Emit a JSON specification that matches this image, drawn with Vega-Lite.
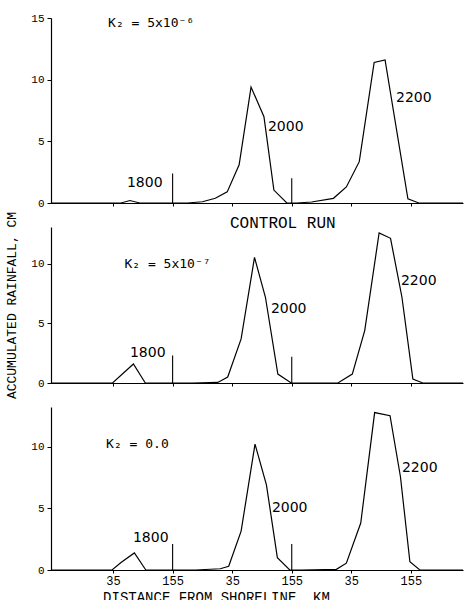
{
  "$schema": "https://vega.github.io/schema/vega-lite/v6.json",
  "padding": {"left": 5, "top": 12, "right": 0, "bottom": 0},
  "bounds": "flush",
  "spacing": 24,
  "background": "white",
  "config": {
    "view": {"stroke": null},
    "font": "Liberation Mono",
    "axis": {
      "grid": false, "domainColor": "black", "tickColor": "black", "labelColor": "black",
      "titleColor": "black", "labelFont": "Liberation Mono", "titleFont": "Liberation Mono",
      "labelFontSize": 11, "titleFontWeight": "normal", "tickSize": 4, "domainWidth": 1.2, "tickWidth": 1
    }
  },
  "datasets": {
    "curves": [
      {"panel": "top", "pos": -90, "value": 0}, {"panel": "top", "pos": 51, "value": 0}, {"panel": "top", "pos": 69, "value": 0.2}, {"panel": "top", "pos": 89, "value": 0},
      {"panel": "top", "pos": 185, "value": 0}, {"panel": "top", "pos": 215, "value": 0.1}, {"panel": "top", "pos": 241, "value": 0.38}, {"panel": "top", "pos": 265, "value": 0.9},
      {"panel": "top", "pos": 289, "value": 3.1}, {"panel": "top", "pos": 313, "value": 9.4}, {"panel": "top", "pos": 339, "value": 7.0}, {"panel": "top", "pos": 359, "value": 1.05},
      {"panel": "top", "pos": 385, "value": 0}, {"panel": "top", "pos": 405, "value": 0}, {"panel": "top", "pos": 435, "value": 0.08}, {"panel": "top", "pos": 479, "value": 0.38},
      {"panel": "top", "pos": 505, "value": 1.3}, {"panel": "top", "pos": 531, "value": 3.35}, {"panel": "top", "pos": 561, "value": 11.4}, {"panel": "top", "pos": 583, "value": 11.6},
      {"panel": "top", "pos": 629, "value": 0.33}, {"panel": "top", "pos": 651, "value": 0}, {"panel": "top", "pos": 740, "value": 0},

      {"panel": "mid", "pos": -90, "value": 0}, {"panel": "mid", "pos": 34, "value": 0}, {"panel": "mid", "pos": 76, "value": 1.6}, {"panel": "mid", "pos": 100, "value": 0},
      {"panel": "mid", "pos": 195, "value": 0}, {"panel": "mid", "pos": 246, "value": 0.05}, {"panel": "mid", "pos": 266, "value": 0.5}, {"panel": "mid", "pos": 293, "value": 3.7},
      {"panel": "mid", "pos": 320, "value": 10.55}, {"panel": "mid", "pos": 342, "value": 7.2}, {"panel": "mid", "pos": 367, "value": 0.75}, {"panel": "mid", "pos": 394, "value": 0},
      {"panel": "mid", "pos": 417, "value": 0}, {"panel": "mid", "pos": 488, "value": 0}, {"panel": "mid", "pos": 517, "value": 0.75}, {"panel": "mid", "pos": 542, "value": 4.4},
      {"panel": "mid", "pos": 571, "value": 12.6}, {"panel": "mid", "pos": 594, "value": 12.15}, {"panel": "mid", "pos": 617, "value": 7.2}, {"panel": "mid", "pos": 639, "value": 0.33},
      {"panel": "mid", "pos": 659, "value": 0}, {"panel": "mid", "pos": 740, "value": 0},

      {"panel": "bot", "pos": -90, "value": 0}, {"panel": "bot", "pos": 33, "value": 0}, {"panel": "bot", "pos": 51, "value": 0.6}, {"panel": "bot", "pos": 78, "value": 1.38},
      {"panel": "bot", "pos": 101, "value": 0}, {"panel": "bot", "pos": 201, "value": 0}, {"panel": "bot", "pos": 251, "value": 0.1}, {"panel": "bot", "pos": 268, "value": 0.3},
      {"panel": "bot", "pos": 293, "value": 3.15}, {"panel": "bot", "pos": 321, "value": 10.2}, {"panel": "bot", "pos": 344, "value": 6.9}, {"panel": "bot", "pos": 366, "value": 1.0},
      {"panel": "bot", "pos": 391, "value": 0}, {"panel": "bot", "pos": 415, "value": 0}, {"panel": "bot", "pos": 485, "value": 0.05}, {"panel": "bot", "pos": 505, "value": 0.55},
      {"panel": "bot", "pos": 534, "value": 3.8}, {"panel": "bot", "pos": 562, "value": 12.75}, {"panel": "bot", "pos": 593, "value": 12.5}, {"panel": "bot", "pos": 614, "value": 7.55},
      {"panel": "bot", "pos": 633, "value": 0.67}, {"panel": "bot", "pos": 653, "value": 0}, {"panel": "bot", "pos": 740, "value": 0}
    ],
    "separators": [
      {"panel": "top", "pos": 155, "top": 2.4}, {"panel": "top", "pos": 395, "top": 2.0},
      {"panel": "mid", "pos": 155, "top": 2.3}, {"panel": "mid", "pos": 395, "top": 2.2},
      {"panel": "bot", "pos": 155, "top": 2.1}, {"panel": "bot", "pos": 395, "top": 2.1}
    ],
    "hours": [
      {"panel": "top", "pos": 63, "value": 1.6, "label": "1800"},
      {"panel": "top", "pos": 347, "value": 6.2, "label": "2000"},
      {"panel": "top", "pos": 605, "value": 8.5, "label": "2200"},
      {"panel": "mid", "pos": 69, "value": 2.5, "label": "1800"},
      {"panel": "mid", "pos": 353, "value": 6.2, "label": "2000"},
      {"panel": "mid", "pos": 615, "value": 8.6, "label": "2200"},
      {"panel": "bot", "pos": 75, "value": 2.6, "label": "1800"},
      {"panel": "bot", "pos": 355, "value": 5.0, "label": "2000"},
      {"panel": "bot", "pos": 617, "value": 8.3, "label": "2200"}
    ],
    "notes": [
      {"panel": "top", "pos": 25, "value": 14.6, "label": "K₂ = 5x10⁻⁶"},
      {"panel": "mid", "pos": 58, "value": 10.0, "label": "K₂ = 5x10⁻⁷"},
      {"panel": "bot", "pos": 21, "value": 10.2, "label": "K₂ = 0.0"}
    ],
    "titles": [
      {"panel": "mid", "pos": 377, "value": 13.45, "label": "CONTROL RUN"}
    ]
  },
  "vconcat": [
    {
      "width": 412, "height": 185,
      "layer": [
        {"data": {"name": "curves"}, "transform": [{"filter": "datum.panel == 'top'"}],
         "mark": {"type": "line", "color": "black", "strokeWidth": 1.2},
         "encoding": {
           "x": {"field": "pos", "type": "quantitative", "title": null, "scale": {"domain": [-90, 740], "nice": false, "zero": false},
                 "axis": {"values": [35, 155, 275, 395, 515, 635], "labels": false, "tickSize": 3}},
           "y": {"field": "value", "type": "quantitative", "title": null, "scale": {"domain": [0, 15], "nice": false},
                 "axis": {"values": [0, 5, 10, 15], "labelPadding": 3}},
           "order": {"field": "pos", "type": "quantitative"}}},
        {"data": {"name": "separators"}, "transform": [{"filter": "datum.panel == 'top'"}],
         "mark": {"type": "rule", "color": "black", "strokeWidth": 1.1},
         "encoding": {"x": {"field": "pos", "type": "quantitative", "title": null}, "y": {"field": "top", "type": "quantitative", "title": null}, "y2": {"datum": 0}}},
        {"data": {"name": "hours"}, "transform": [{"filter": "datum.panel == 'top'"}],
         "mark": {"type": "text", "font": "DejaVu Sans", "fontSize": 14, "color": "black", "align": "left", "baseline": "middle"},
         "encoding": {"x": {"field": "pos", "type": "quantitative", "title": null}, "y": {"field": "value", "type": "quantitative", "title": null}, "text": {"field": "label", "type": "nominal"}}},
        {"data": {"name": "notes"}, "transform": [{"filter": "datum.panel == 'top'"}],
         "mark": {"type": "text", "font": "DejaVu Sans Mono", "fontSize": 13, "color": "black", "align": "left", "baseline": "middle"},
         "encoding": {"x": {"field": "pos", "type": "quantitative", "title": null}, "y": {"field": "value", "type": "quantitative", "title": null}, "text": {"field": "label", "type": "nominal"}}}
      ]
    },
    {
      "width": 412, "height": 156,
      "layer": [
        {"data": {"name": "curves"}, "transform": [{"filter": "datum.panel == 'mid'"}],
         "mark": {"type": "line", "color": "black", "strokeWidth": 1.2},
         "encoding": {
           "x": {"field": "pos", "type": "quantitative", "title": null, "scale": {"domain": [-90, 740], "nice": false, "zero": false},
                 "axis": {"values": [35, 155, 275, 395, 515, 635], "labels": false, "tickSize": 3}},
           "y": {"field": "value", "type": "quantitative", "title": "ACCUMULATED RAINFALL, CM", "scale": {"domain": [0, 13.1], "nice": false},
                 "axis": {"values": [0, 5, 10], "labelPadding": 3, "titleFontSize": 13, "titlePadding": 12}},
           "order": {"field": "pos", "type": "quantitative"}}},
        {"data": {"name": "separators"}, "transform": [{"filter": "datum.panel == 'mid'"}],
         "mark": {"type": "rule", "color": "black", "strokeWidth": 1.1},
         "encoding": {"x": {"field": "pos", "type": "quantitative", "title": null}, "y": {"field": "top", "type": "quantitative", "title": "ACCUMULATED RAINFALL, CM"}, "y2": {"datum": 0}}},
        {"data": {"name": "hours"}, "transform": [{"filter": "datum.panel == 'mid'"}],
         "mark": {"type": "text", "font": "DejaVu Sans", "fontSize": 14, "color": "black", "align": "left", "baseline": "middle"},
         "encoding": {"x": {"field": "pos", "type": "quantitative", "title": null}, "y": {"field": "value", "type": "quantitative", "title": "ACCUMULATED RAINFALL, CM"}, "text": {"field": "label", "type": "nominal"}}},
        {"data": {"name": "notes"}, "transform": [{"filter": "datum.panel == 'mid'"}],
         "mark": {"type": "text", "font": "DejaVu Sans Mono", "fontSize": 13, "color": "black", "align": "left", "baseline": "middle"},
         "encoding": {"x": {"field": "pos", "type": "quantitative", "title": null}, "y": {"field": "value", "type": "quantitative", "title": "ACCUMULATED RAINFALL, CM"}, "text": {"field": "label", "type": "nominal"}}},
        {"data": {"name": "titles"}, "transform": [{"filter": "datum.panel == 'mid'"}],
         "mark": {"type": "text", "font": "Liberation Mono", "fontSize": 16, "color": "black", "align": "center", "baseline": "middle"},
         "encoding": {"x": {"field": "pos", "type": "quantitative", "title": null}, "y": {"field": "value", "type": "quantitative", "title": "ACCUMULATED RAINFALL, CM"}, "text": {"field": "label", "type": "nominal"}}}
      ]
    },
    {
      "width": 412, "height": 163,
      "layer": [
        {"data": {"name": "curves"}, "transform": [{"filter": "datum.panel == 'bot'"}],
         "mark": {"type": "line", "color": "black", "strokeWidth": 1.2},
         "encoding": {
           "x": {"field": "pos", "type": "quantitative", "title": "DISTANCE FROM SHORELINE, KM", "scale": {"domain": [-90, 740], "nice": false, "zero": false},
                 "axis": {"values": [35, 155, 275, 395, 515, 635], "labelExpr": "datum.value % 240 == 35 ? '35' : '155'", "labelFontSize": 12, "tickSize": 3, "labelPadding": 2, "titleFontSize": 14, "titlePadding": 4, "titleX": 165}},
           "y": {"field": "value", "type": "quantitative", "title": null, "scale": {"domain": [0, 13.2], "nice": false},
                 "axis": {"values": [0, 5, 10], "labelPadding": 3}},
           "order": {"field": "pos", "type": "quantitative"}}},
        {"data": {"name": "separators"}, "transform": [{"filter": "datum.panel == 'bot'"}],
         "mark": {"type": "rule", "color": "black", "strokeWidth": 1.1},
         "encoding": {"x": {"field": "pos", "type": "quantitative", "title": "DISTANCE FROM SHORELINE, KM"}, "y": {"field": "top", "type": "quantitative", "title": null}, "y2": {"datum": 0}}},
        {"data": {"name": "hours"}, "transform": [{"filter": "datum.panel == 'bot'"}],
         "mark": {"type": "text", "font": "DejaVu Sans", "fontSize": 14, "color": "black", "align": "left", "baseline": "middle"},
         "encoding": {"x": {"field": "pos", "type": "quantitative", "title": "DISTANCE FROM SHORELINE, KM"}, "y": {"field": "value", "type": "quantitative", "title": null}, "text": {"field": "label", "type": "nominal"}}},
        {"data": {"name": "notes"}, "transform": [{"filter": "datum.panel == 'bot'"}],
         "mark": {"type": "text", "font": "DejaVu Sans Mono", "fontSize": 13, "color": "black", "align": "left", "baseline": "middle"},
         "encoding": {"x": {"field": "pos", "type": "quantitative", "title": "DISTANCE FROM SHORELINE, KM"}, "y": {"field": "value", "type": "quantitative", "title": null}, "text": {"field": "label", "type": "nominal"}}}
      ]
    }
  ]
}
